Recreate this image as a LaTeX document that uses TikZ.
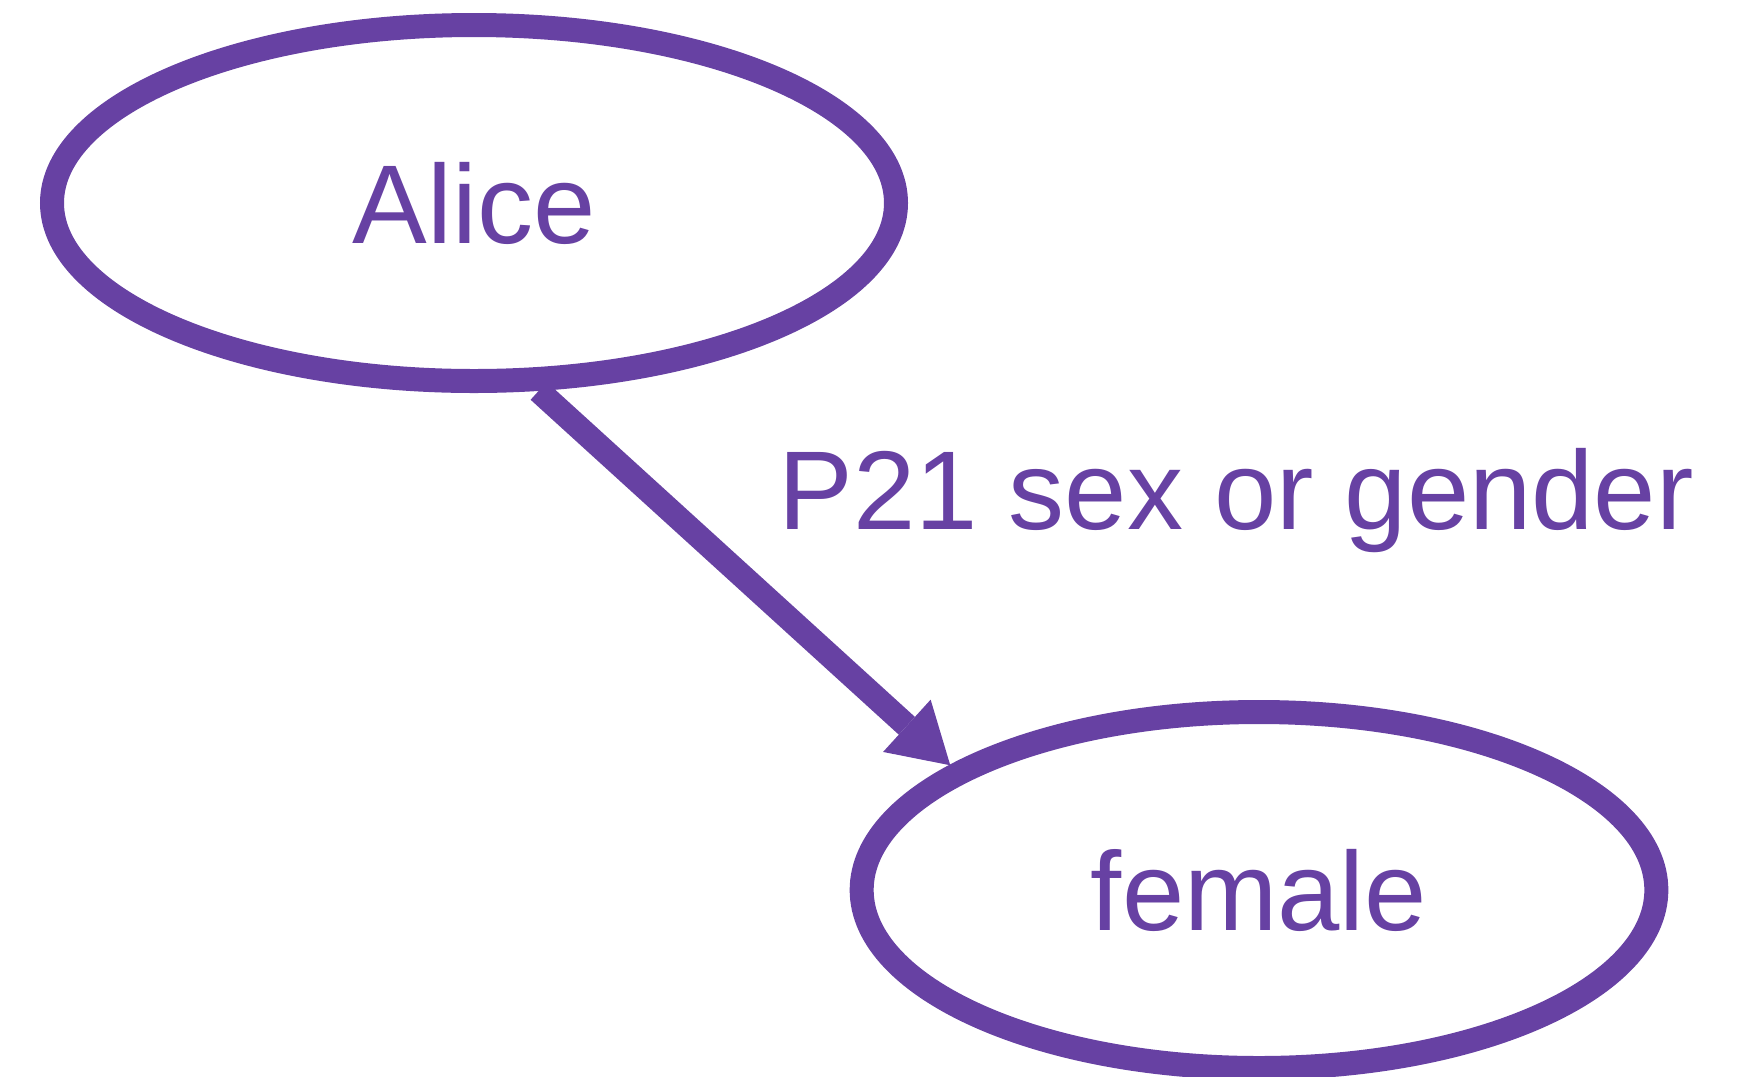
\documentclass[tikz,border=0pt]{standalone}
\usepackage{fontspec}
\setmainfont{Liberation Sans}
\usetikzlibrary{shapes.geometric,arrows.meta}

\definecolor{graphpurple}{RGB}{103,65,163}

\tikzset{every picture/.style={line width=0.75pt}}
\tikzset{
	entity/.style={ellipse, draw=graphpurple, line width=18pt, inner sep=0pt, minimum height=267pt, text=graphpurple, font=\fontsize{84}{100}\selectfont},
	relation/.style={draw=graphpurple, line width=18pt, -{Triangle[length=44pt,width=53pt,line width=0pt]}},
}

\begin{document}
\begin{tikzpicture}[x=0.75pt,y=0.75pt,yscale=-1,xscale=1]
	%set diagram to the size of the reference
	\useasboundingbox (0,0) rectangle (1742,1076);
	
	%Shape: Ellipse [id:alice] 
	\node [entity, minimum width=633pt] (alice) at (474,203) {Alice};
	%Shape: Ellipse [id:female] 
	\node [entity, minimum width=596pt] (female) at (1259,890) {female};
	
	%Straight Lines [id:p21] 
	\draw [relation] (alice.-71) -- (female.158) ;
	
	% Text Node
	\node [anchor=base west, inner sep=0pt, text=graphpurple, font=\fontsize{84}{100}\selectfont] (p21label) at (778,529) {P21 sex or gender};
	
\end{tikzpicture}
\end{document}
